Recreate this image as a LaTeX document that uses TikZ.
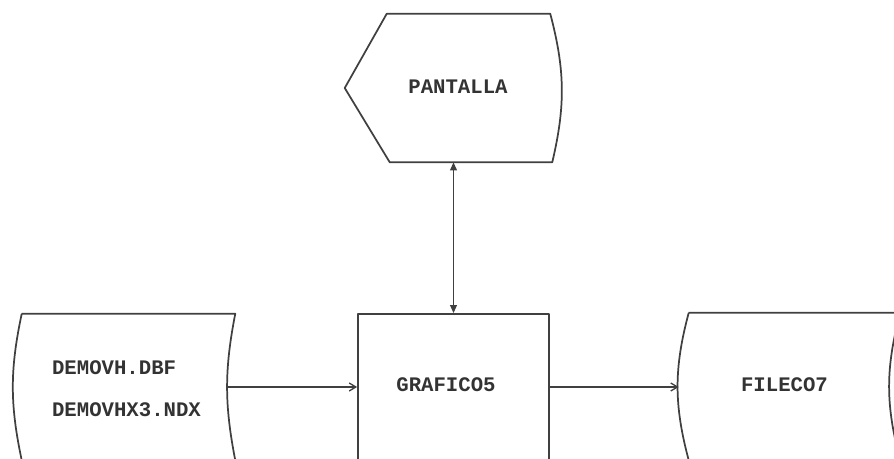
\documentclass[tikz,border=0pt]{standalone}
\usepackage{fontspec}
\setmonofont{Liberation Mono}
\usetikzlibrary{arrows.meta,calc}

\begin{document}
\begin{tikzpicture}[
  x=0.75pt,y=-0.75pt,
  font=\ttfamily\bfseries\fontsize{15.5}{31.5}\selectfont,
  frame/.style={draw=none,inner sep=0pt},
  outline/.style={draw=black!75,line width=1.3pt,line join=round},
  rotulo/.style={text=black!80,inner sep=0pt},
  arr/.style={-{Straight Barb[length=5pt,width=6pt]},draw=black!75,line width=1pt},
  dbl/.style={{Triangle[length=6pt,width=5pt]}-{Triangle[length=6pt,width=5pt]},
    draw=black!75,line width=1.2pt}
]
\useasboundingbox (0,0) rectangle (894,458);
\clip (0,0) rectangle (894,458);
\node[frame,minimum width=161.25pt,minimum height=111pt] (pantalla) at (452.5,88) {};
\node[frame,minimum width=159.75pt,minimum height=109.5pt] (fuente) at (128.5,387) {};
\node[frame,outline,minimum width=143.25pt,minimum height=109.5pt] (grafico) at (453.5,387) {};
\node[frame,minimum width=158.25pt,minimum height=110.25pt] (fileco) at (794.5,386.5) {};
\node[rotulo] (t-pantalla) at (458,87) {PANTALLA};
\node[rotulo,align=left] (t-fuente) at (126.5,389) {DEMOVH.DBF\\DEMOVHX3.NDX};
\node[rotulo] (t-grafico) at (446,385) {GRAFICO5};
\node[rotulo] (t-fileco) at (784.5,385) {FILECO7};
\draw[outline] (pantalla.west) -- ($(pantalla.north west)+(42,0)$)
  -- ($(pantalla.north east)+(-10,0)$) to[bend left=14] ($(pantalla.south east)+(-8,0)$)
  -- ($(pantalla.south west)+(45,0)$) -- cycle;
\draw[outline] (fuente.north west) -- (fuente.north east) to[bend right=11] (fuente.south east)
  -- (fuente.south west) to[bend left=12] (fuente.north west);
\draw[outline] (fileco.north west) -- (fileco.north east) to[bend right=15] (fileco.south east)
  -- (fileco.south west) to[bend left=15] (fileco.north west);
\draw[arr,shorten <=-5.25pt] (fuente.east) -- (grafico.west);
\draw[arr,shorten >=7.5pt] (grafico.east) -- (fileco.west |- grafico.east);
\draw[dbl] (grafico.north |- pantalla.south) -- (grafico.north);
\end{tikzpicture}
\end{document}
